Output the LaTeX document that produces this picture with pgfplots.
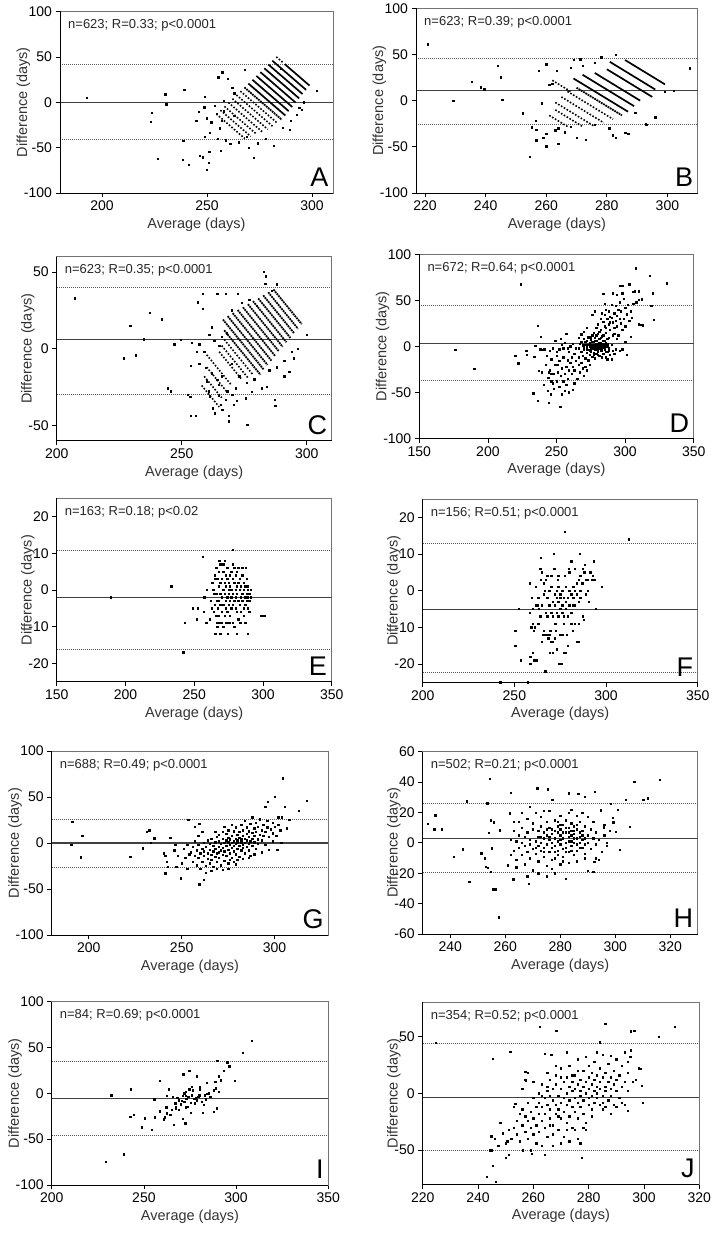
\documentclass[border=0pt]{standalone}
\usepackage{fontspec}
\setmainfont{Liberation Sans}
\usepackage{pgfplots}
\pgfplotsset{compat=1.18}
\newcommand\TLf{\fontsize{14}{15}\selectfont}
\newcommand\LBf{\fontsize{14.5}{15}\selectfont}
\newcommand\ANf{\fontsize{13}{13}\selectfont}
\newcommand\LTf{\fontsize{27}{28}\selectfont}
\pgfplotsset{
  panel/.style={
    scale only axis, anchor=south west,
    axis line style={draw=black!55, line width=0.7pt},
    tick align=outside, tickpos=left, major tick length=4.5pt,
    every tick/.style={black, line width=0.7pt},
    ticklabel style={font=\TLf, text=black},
    /pgf/number format/assume math mode=true,
    label style={font=\LBf, text=black!80},
    xlabel={Average (days)}, ylabel={Difference (days)},
    ylabel shift=-13pt,
    extra description/.code={\draw[black, line width=0.8pt] (0,1)--(0,0)--(1,0);},
  },
  pts/.style={only marks, mark=square*, mark size=0.68pt, black},
  mline/.style={black!75, line width=1.1pt, mark=none},
  lim/.style={black!65, line width=0.8pt, dash pattern=on 0.8pt off 1.2pt, mark=none},
  st/.style={black, line width=1.7pt, mark=none},
  st2/.style={black, line width=1.8pt, mark=none, dash pattern=on 1.8pt off 0.8pt},
  ds/.style={black, line width=1.6pt, mark=none, dash pattern=on 1.6pt off 1.7pt},
}
\newcommand\ann[1]{\node[anchor=north west, font=\ANf, inner sep=0pt, xshift=8pt, yshift=-8pt, text=black!85] at (rel axis cs:0,1) {#1};}
\newcommand\plet[1]{\node[anchor=south east, font=\LTf, inner sep=0pt, xshift=-4.5pt, yshift=6pt] at (rel axis cs:1,0) {#1};}
\begin{document}
\begin{tikzpicture}
\path[use as bounding box] (0pt,0pt) rectangle (712pt,1233pt);
% ---------------- A
\begin{axis}[panel, at={(60pt,1040pt)}, width=273pt, height=181.5pt,
  xmin=180, xmax=310, ymin=-100, ymax=100, xtick={200,250,300}, ytick={-100,-50,0,50,100}]
\addplot[mline] coordinates {(180,0) (310,0)};
\addplot[lim] coordinates {(180,42) (310,42)};
\addplot[lim] coordinates {(180,-41.5) (310,-41.5)};
\addplot[ds] coordinates {(283,50) (286.5,43)};
\addplot[st] coordinates {(287,42) (298.8,18.4)};
\addplot[st] coordinates {(281.1,45.8) (297.2,13.6)};
\addplot[st] coordinates {(279.2,41.6) (295.5,9)};
\addplot[st] coordinates {(277.3,37.4) (293.9,4.2)};
\addplot[st] coordinates {(275.4,33.2) (292.2,-0.4)};
\addplot[st] coordinates {(273.5,29) (290.6,-5.2)};
\addplot[st] coordinates {(271.6,24.8) (288.9,-9.8)};
\addplot[st] coordinates {(269.7,20.6) (287.3,-14.6)};
\addplot[st2] coordinates {(267.8,16.4) (285.6,-19.2)};
\addplot[ds] coordinates {(265.9,12.2) (283.5,-23)};
\addplot[ds] coordinates {(264,8) (281.2,-26.4)};
\addplot[ds] coordinates {(262.1,3.8) (278.9,-29.8)};
\addplot[ds] coordinates {(260.2,-0.4) (276.3,-32.6)};
\addplot[ds] coordinates {(258.3,-4.6) (273.5,-35)};
\addplot[ds] coordinates {(256.4,-8.8) (270.8,-37.6)};
\addplot[ds] coordinates {(254.5,-13) (268,-40)};
\addplot[pts] coordinates {(192.8,5.1) (223.8,-11.4) (223.1,-21.3) (230.1,8.8) (230.6,-2.2) (226.6,-62.5) (239.1,13.6) (238.6,-42.3) (238.3,-63.6) (241.3,-69.1) (246.6,-59.2) (247.8,-60.7) (245.9,-10.3) (244.9,-20.2) (249,6.3) (248.6,-5.5) (248.8,-37.9) (249.8,-17.6) (249.8,-74.6) (250.9,-66.5) (251,-54.4) (251.4,-33.5) (253.7,-4) (254.5,-12.9) (255.3,27.6) (257.3,33.1) (256.1,-28.7) (256.6,-53.3) (272.1,-61.4) (281.7,-48.2) (302.1,12.5) (289.3,-30.5) (292.8,-14) (293.9,-5.9) (260,26) (268,36) (262,16) (263,10) (259,-42) (261,-46) (265,-44) (269,-38) (270,-50) (274,-45) (278,-40) (285,37) (258,2) (255,-40) (252,-22) (257,-20) (263,-15) (258,-10) (286,-28) (290,-20) (295,-8) (296,0)};
\ann{n=623; R=0.33; p<0.0001}
\plet{A}
\end{axis}
% ---------------- B
\begin{axis}[panel, at={(416pt,1040pt)}, width=281.7pt, height=184.7pt,
  xmin=217, xmax=310, ymin=-100, ymax=100, xtick={220,240,260,280,300}, ytick={-100,-50,0,50,100}]
\addplot[mline] coordinates {(217,10.8) (310,10.8)};
\addplot[lim] coordinates {(217,45.9) (310,45.9)};
\addplot[lim] coordinates {(217,-25.2) (310,-25.2)};
\addplot[st] coordinates {(286,44) (299.2,17.6)};
\addplot[st] coordinates {(281,42) (296,12)};
\addplot[st] coordinates {(280,34) (295,4)};
\addplot[st] coordinates {(276,30) (291,0)};
\addplot[st] coordinates {(272,28) (289,-6)};
\addplot[st] coordinates {(269,24) (287,-12)};
\addplot[st2] coordinates {(270,14) (285,-16)};
\addplot[ds] coordinates {(267,10) (282,-20)};
\addplot[ds] coordinates {(265,4) (279,-24)};
\addplot[ds] coordinates {(263,-2) (276,-28)};
\addplot[ds] coordinates {(263,-10) (272,-28)};
\addplot[ds] coordinates {(261,-16) (267,-28)};
\addplot[ds] coordinates {(262,22) (268,10)};
\addplot[pts] coordinates {(220.8,61) (229.3,0.2) (235.3,20.7) (238.3,14.6) (239.5,12.4) (243.9,37.7) (245,25.4) (245.4,0.9) (252.3,-13.5) (254.5,-60.4) (255.1,-28.6) (256.5,-21.4) (256.7,-31.5) (257.6,32.6) (256.7,-43) (258.6,-2.7) (260,39.5) (260,-49.5) (263.5,32.6) (263.9,-46.7) (271.2,44.9) (275.9,41.3) (278.1,47) (280.8,-29.7) (281.9,-37.6) (286.1,-34.4) (289.4,-12.8) (292.9,-25) (307.3,35.1) (269,44) (272,38) (268,36) (262,18) (261,17) (264,-30) (266,-34) (268,-28) (270,-40) (273,-42) (276,-26) (260,-36) (259,-40) (263,-32) (283,-40) (287,-36) (293,-26) (296,-18) (283,50) (299,10) (302,11)};
\ann{n=623; R=0.39; p<0.0001}
\plet{B}
\end{axis}
% ---------------- C
\begin{axis}[panel, at={(56.7pt,792.3pt)}, width=275pt, height=184pt,
  xmin=200, xmax=310, ymin=-60, ymax=60, xtick={200,250,300}, ytick={-50,0,50}]
\addplot[mline] coordinates {(200,5.9) (310,5.9)};
\addplot[lim] coordinates {(200,39.7) (310,39.7)};
\addplot[lim] coordinates {(200,-29.7) (310,-29.7)};
\addplot[st2] coordinates {(286.7,38.6) (298,16)};
\addplot[st2] coordinates {(284.6,36.8) (296.5,13)};
\addplot[st2] coordinates {(282.6,34.8) (295,10)};
\addplot[st2] coordinates {(280.6,32.8) (293.5,7)};
\addplot[st2] coordinates {(278.5,31) (291.9,4.2)};
\addplot[st2] coordinates {(276.5,29) (290.4,1.2)};
\addplot[st2] coordinates {(274.5,27) (288.9,-1.8)};
\addplot[st2] coordinates {(272.4,25.2) (287.4,-4.8)};
\addplot[st2] coordinates {(270.4,23.2) (285.9,-7.8)};
\addplot[st2] coordinates {(268.4,21.2) (284.3,-10.6)};
\addplot[st2] coordinates {(266.5,19) (282.8,-13.6)};
\addplot[st2] coordinates {(267,12) (281.5,-17)};
\addplot[ds] coordinates {(267,6) (278.5,-17)};
\addplot[ds] coordinates {(266,2) (276.5,-19)};
\addplot[ds] coordinates {(265,-2) (274,-20)};
\addplot[ds] coordinates {(260,-4) (270,-24)};
\addplot[ds] coordinates {(260,-12) (268,-28)};
\addplot[ds] coordinates {(259,-18) (266,-32)};
\addplot[ds] coordinates {(258,-24) (265,-38)};
\addplot[pts] coordinates {(207.3,33) (226.8,-6.1) (231.5,-4.3) (229.4,15) (234.7,6.3) (237.1,23.3) (242,19.3) (247,3) (244.4,-25.7) (245.7,-27.8) (249.7,5.9) (252.3,-30) (253.4,-31.5) (253.6,-11.1) (253.6,-43.7) (255.6,-43.5) (256.4,30.2) (258.5,25.9) (258.3,35.7) (264.2,35.7) (267.5,35.7) (272.5,35.7) (268.9,-47.4) (276.2,-49.6) (275.5,-32.2) (282.8,50) (283.7,47.2) (283.4,42.2) (282.1,-25.7) (284.1,-24.6) (287.2,-33.3) (287.4,-37) (300,9.1) (296.3,0) (294.7,-6.1) (259.6,-12.6) (259.9,-21.3) (260.7,-27.8) (261.2,-31.1) (264.2,-20.2) (264.9,-23.5) (264.9,-30.7) (265.6,-36.5) (266.2,-39.8) (267.5,-33.3) (268.2,-27.8) (262.3,-38.7) (263.3,-42) (268.9,-43.7) (270.2,-30) (271.5,-25.7) (270.9,-36.5) (257,3) (259,-2) (261,9) (263,5) (265,2) (266,8) (268,10) (270,-10) (273,-18) (276,-22) (279,-20) (286,38) (288,42) (280,28) (277,32) (262,-16) (266,-18) (272,-34) (278,-28) (291,-18) (293,-15) (256,-2) (254,4) (285,-14) (288,-12) (291,-8) (294,-2) (270,25) (274,30) (262,14) (257,-10)};
\ann{n=623; R=0.35; p<0.0001}
\plet{C}
\end{axis}
% ---------------- D
\begin{axis}[panel, at={(419.3pt,794.7pt)}, width=274.4pt, height=184pt,
  xmin=150, xmax=350, ymin=-100, ymax=100, xtick={150,200,250,300,350}, ytick={-100,-50,0,50,100}]
\addplot[mline] coordinates {(150,2.9) (350,2.9)};
\addplot[lim] coordinates {(150,44) (350,44)};
\addplot[lim] coordinates {(150,-36.7) (350,-36.7)};
\addplot[pts] coordinates {(266,-2) (267,3) (268,-6) (268,5) (269,-10) (269,1) (270,-4) (270,8) (271,-13) (271,2) (272,-7) (272,6) (272,-1) (273,-4) (273,10) (273,-15) (274,0) (274,4) (274,-9) (275,-3) (275,7) (275,-6) (276,1) (276,-11) (276,12) (277,-2) (277,5) (277,-7) (278,2) (278,-4) (278,9) (278,-13) (279,0) (279,-8) (279,6) (280,-3) (280,3) (280,14) (280,-6) (281,1) (281,-10) (281,8) (282,-2) (282,4) (282,18) (283,-5) (283,0) (283,11) (284,-8) (284,3) (284,-1) (285,6) (285,-4) (285,22) (286,0) (286,-12) (286,15) (287,3) (287,-6) (288,9) (288,-2) (289,-9) (289,26) (290,2) (290,-14) (291,12) (291,-5) (292,20) (293,-3) (294,8)
(280,24) (282,30) (283,36) (284,27) (285,34) (286,20) (286,40) (287,30) (288,24) (288,38) (289,18) (290,31) (290,45) (291,26) (292,36) (292,14) (293,28) (293,44) (294,22) (294,33) (295,40) (295,12) (296,30) (296,48) (297,25) (297,38) (298,18) (298,66) (299,30) (299,52) (300,42) (300,22) (301,35) (301,-9) (302,45) (303,28) (304,38) (305,31) (306,46) (307,60) (308,48) (310,60) (312,51) (313,23) (310,24) (296,66) (294,56) (281,16) (279,20) (277,15) (283,-12) (287,-14) (292,-8) (296,-5) (298,-3) (300,5) (278,38) (276,34) (285,46) (289,32) (272,20) (270,16) (268,13) (266,9)
(264,-16) (263,-8) (262,-22) (261,-12) (261,-30) (260,-18) (259,-26) (259,-6) (258,-35) (258,-15) (257,-22) (257,-42) (256,-30) (256,-48) (255,-12) (255,-38) (254,-24) (254,-52) (253,-32) (252,-16) (252,-44) (251,-28) (250,-38) (250,-6) (249,-20) (248,-30) (248,-46) (247,-40) (246,-14) (245,-26) (244,-34) (243,-10) (242,-20) (240,-4) (239,-28) (266,-20) (267,-28) (268,-18) (269,-24) (270,-32) (271,-22) (272,-26) (274,-20) (263,-40) (262,-47) (259,-50) (265,-35) (266,-12) (264,-2) (262,3) (260,0) (258,-2) (256,4) (254,2) (252,-3) (250,-10) (247,-2) (245,-5) (249,6) (253,8) (257,14) (263,-26) (246,-30) (251,-20) (255,-2)
(176.2,-3.6) (190.1,-24.6) (224.1,67.4) (220,-10.5) (222.2,-18.5) (227.8,-4.7) (228.5,-9.4) (236.3,22.1) (238.7,10.5) (233.8,-11.2) (234.5,0.5) (237,-26.8) (233.1,-51.1) (236.3,-59) (244.3,-61.2) (240.6,-41.7) (243.5,-48.2) (245.9,-52.2) (252.8,-65.6) (307.5,84.8) (317.7,76.4) (330.3,68.5) (320.3,57.6) (309.9,50.4) (318.9,44.2) (320.8,28.6) (304.3,10.5) (311.6,23.2) (305.5,59.4) (303,67.4) (297.8,57.6) (291,57.6) (284.1,56.9) (244.5,-28) (241,-3) (246,-38) (238,-3)
(270,-1) (271,5) (272,-3) (273,2) (274,-5) (275,1) (276,-2) (276,5) (277,-9) (277,2) (278,-1) (278,6) (279,3) (279,-3) (280,0) (280,-9) (281,-2) (281,4) (282,1) (282,-5) (283,3) (283,-2) (284,0) (284,6) (285,-1) (285,1) (286,-6) (286,4) (287,0) (288,-5) (275,10) (279,12) (282,9) (284,12) (287,8)};
\ann{n=672; R=0.64; p<0.0001}
\plet{D}
\end{axis}
% ---------------- E
\begin{axis}[panel, at={(56.7pt,551.3pt)}, width=275pt, height=183.4pt,
  xmin=150, xmax=350, ymin=-25, ymax=25, xtick={150,200,250,300,350}, ytick={-20,-10,0,10,20}]
\addplot[mline] coordinates {(150,-2.1) (350,-2.1)};
\addplot[lim] coordinates {(150,10.9) (350,10.9)};
\addplot[lim] coordinates {(150,-16.1) (350,-16.1)};
\addplot[pts] coordinates {(189.5,-2) (233.2,1) (256.2,9) (243.3,-9) (242.1,-17) (248.9,-5) (252.5,-5) (251.8,-8) (256.7,-6) (257.2,-2) (259.1,0) (258.6,-9) (261.5,-8) (262.7,-5) (263.9,0) (265.2,3) (266.4,-3) (267.6,1) (265.2,-12) (266.4,-9) (266.8,-10) (268.3,-9) (268.1,8) (277.8,11) (298.6,-7) (300.8,-7) (288.9,-12) (274.4,-12) (280.9,-12) (283.5,-9) (286,-7) (287.5,6)
(262,-3) (263,2) (264,-1) (264,-6) (265,4) (265,-4) (266,6) (266,-1) (266,-7) (267,3) (267,-5) (267,-10) (268,1) (268,5) (268,-3) (268,-7) (269,7) (269,-1) (269,-4) (269,2) (270,-2) (270,3) (270,-6) (270,-9) (271,0) (271,5) (271,-4) (272,-1) (272,2) (272,-7) (272,8) (273,-3) (273,1) (273,-5) (273,4) (274,-2) (274,3) (274,-6) (274,-9) (274,6) (275,0) (275,-4) (275,2) (275,-1) (276,-3) (276,4) (276,-7) (276,1) (277,-2) (277,5) (277,-5) (277,0) (278,-1) (278,3) (278,-9) (278,-4) (279,2) (279,-3) (279,6) (280,0) (280,-5) (280,4) (280,-2) (281,-1) (281,1) (281,-6) (281,5) (282,-3) (282,2) (282,-8) (283,0) (283,-4) (283,3) (284,-2) (284,1) (284,-6) (285,-1) (285,4) (285,-3) (286,0) (286,-5) (286,2) (287,-2) (287,1) (287,-4) (288,-1) (288,3) (288,-3) (289,0) (289,-2) (289,1) (290,-1) (290,-3) (291,-2) (291,0) (289,-5) (290,-6) (284,-9) (279,-10) (276,-9) (271,-10) (269,-12) (273,-9) (287,-9) (285,6) (282,6) (278,7) (271,7)};
\ann{n=163; R=0.18; p<0.02}
\plet{E}
\end{axis}
% ---------------- F
\begin{axis}[panel, at={(422.7pt,550.7pt)}, width=275pt, height=183.3pt,
  xmin=200, xmax=350, ymin=-25, ymax=25, xtick={200,250,300,350}, ytick={-20,-10,0,10,20}]
\addplot[mline] coordinates {(200,-5.1) (350,-5.1)};
\addplot[lim] coordinates {(200,12.9) (350,12.9)};
\addplot[lim] coordinates {(200,-22.3) (350,-22.3)};
\addplot[pts] coordinates {(242.2,-25) (257.3,-25) (250.4,-11) (250.4,-15) (252.4,-5) (253.3,-19) (258.7,-18) (258.7,-20) (260,-17) (260.9,-19) (260.4,-11) (259.1,-10) (260,-9) (258.5,2) (259.6,-2) (258.2,-6) (261.5,1) (262.7,-4) (263.3,-5) (264.2,3) (264.5,9) (264,6) (264.9,-14) (265.8,-12) (266.9,-22) (267.3,-12) (268.5,-13) (269.1,-17) (269.6,-11) (270,-14) (271.3,10) (271.8,6) (270.9,-14) (272.2,-9) (272.7,-11) (273.1,-16) (274.5,-20) (275.5,-20) (274.9,-12) (273.6,3) (266.4,0) (277.3,4) (279.6,6) (280,5) (280.9,8) (276.9,-17) (277.8,-17) (279.1,-15) (278.7,-12) (281.8,-11) (285.1,-9) (285.1,-14) (285.8,10) (287.3,-7) (287.8,-8) (287.3,6) (288.5,7) (289.1,3) (290,0) (290.4,-3) (291.8,5) (292.4,3) (293.1,8) (293.5,3) (292.7,4) (294.5,-5) (297.6,1) (312.4,14) (277.3,16)
(263,-2) (264,-7) (265,-4) (266,-1) (266,2) (267,-6) (267,3) (268,-2) (268,-7) (269,0) (269,-4) (270,-6) (270,1) (271,-3) (271,-7) (272,-1) (272,-4) (273,-6) (273,0) (273,-2) (274,-3) (274,-7) (274,1) (275,-1) (275,-5) (275,-2) (276,-6) (276,0) (276,-4) (277,-2) (277,-7) (278,1) (278,-3) (278,-5) (279,-2) (279,-7) (280,0) (280,-4) (281,-1) (281,-6) (282,1) (282,-2) (283,-4) (283,-9) (283,0) (284,2) (284,-1) (285,3) (285,-3) (286,0) (286,4) (287,2) (288,5) (289,-1) (290,3) (291,5) (284,-14) (281,-9) (277,-9) (272,-13) (269,-12) (266,-11) (263,-9) (262,-4) (260,-5) (261,-10) (262,-19) (276,-12) (271,-17) (265,5) (268,4) (270,4) (274,4) (282,-4) (283,6) (286,-2)};
\ann{n=156; R=0.51; p<0.0001}
\plet{F}
\end{axis}
% ---------------- G
\begin{axis}[panel, at={(51.7pt,298pt)}, width=276.6pt, height=184pt,
  xmin=180, xmax=329, ymin=-100, ymax=100, xtick={200,250,300}, ytick={-100,-50,0,50,100}]
\addplot[mline] coordinates {(180,0) (329,0)};
\addplot[lim] coordinates {(180,25.4) (329,25.4)};
\addplot[lim] coordinates {(180,-26) (329,-26)};
\addplot[pts] coordinates {(255,-10) (256,-20) (256,-4) (257,-14) (258,-8) (258,-24) (259,-2) (259,-16) (260,-11) (260,-28) (261,-6) (261,-20) (262,0) (262,-14) (262,-9) (263,-25) (263,-4) (264,-17) (264,-11) (264,3) (265,-7) (265,-22) (265,-1) (266,-13) (266,5) (266,-18) (267,-9) (267,-3) (267,-26) (268,-15) (268,1) (268,-6) (269,-11) (269,-20) (269,7) (270,-4) (270,-16) (270,2) (271,-8) (271,-24) (271,-1) (272,-13) (272,5) (272,-5) (273,-19) (273,0) (273,-9) (274,3) (274,-14) (274,-3) (274,10) (275,-7) (275,1) (275,-22) (275,6) (276,-11) (276,-2) (276,4) (277,-16) (277,0) (277,8) (277,-5) (278,-9) (278,2) (278,13) (278,-3) (279,-1) (279,5) (279,-12) (279,17) (280,3) (280,-6) (280,9) (280,0) (281,-3) (281,6) (281,-15) (281,12) (282,1) (282,-8) (282,4) (282,20) (283,-2) (283,8) (283,-5) (283,14) (284,0) (284,5) (284,-11) (284,24) (285,3) (285,-4) (285,10) (285,17) (286,-1) (286,7) (286,13) (286,-8) (287,2) (287,21) (287,-14) (288,5) (288,11) (288,-3) (288,28) (289,1) (289,16) (289,8) (290,-6) (290,12) (290,22) (291,4) (291,-1) (291,18) (292,9) (292,26) (293,14) (293,-10) (293,3) (294,20) (294,8) (295,12) (295,-2) (296,17) (296,24) (297,7) (297,-7) (298,15) (299,22) (299,2) (300,18) (301,8) (302,28) (303,14) (251,-6) (252,-16) (253,-28) (254,-12) (253,-2) (250,-22) (248,-14) (247,-26) (246,-8) (257,2) (259,8) (261,12) (263,-32) (266,-30) (269,-28) (272,-29) (275,-28) (278,-20) (280,-18) (283,-17) (286,-16) (289,-12) (270,-10) (276,-18) (279,-23) (277,20) (275,14) (272,12) (270,9) (268,12) (273,18)
(191.1,23.2) (190.5,-2.2) (196.4,7.6) (195.5,-15.6) (222.3,-14.9) (228.9,-5.8) (231.3,12.3) (232.5,14.1) (233.4,0.4) (235.2,5.1) (243.8,5.8) (240.5,-11.2) (241.1,-14.1) (241.9,-20.3) (241.1,-33) (242.5,-25.7) (249.6,-38.4) (259.5,-44.6) (253.6,25) (304.5,70.3) (300,50.4) (296.4,44.9) (295,39.5) (305.4,39.5) (317.3,45.7) (312.9,35.1) (306.6,15.9) (308,25) (301.4,-7.6) (303.6,0.4) (299.1,10.5) (304,28) (302,20) (246.6,-2) (262,-40) (257,18) (259.4,20.7)};
\ann{n=688; R=0.49; p<0.0001}
\plet{G}
\end{axis}
% ---------------- H
\begin{axis}[panel, at={(422.7pt,299pt)}, width=275pt, height=182.3pt,
  xmin=230, xmax=330, ymin=-60, ymax=60, xtick={240,260,280,300,320}, ytick={-60,-40,-20,0,20,40,60}]
\addplot[mline] coordinates {(230,3) (330,3)};
\addplot[lim] coordinates {(230,26) (330,26)};
\addplot[lim] coordinates {(230,-19.7) (330,-19.7)};
\addplot[pts] coordinates {(262,2) (263,-5) (263,8) (264,1) (264,-11) (265,5) (265,-3) (265,14) (266,-8) (266,0) (266,10) (267,-14) (267,4) (267,-2) (268,7) (268,-6) (268,16) (269,-1) (269,2) (269,-10) (270,9) (270,-4) (270,13) (271,1) (271,-7) (271,20) (272,4) (272,-2) (272,-12) (273,11) (273,0) (273,-5) (273,17) (274,3) (274,-3) (274,7) (274,-9) (275,-1) (275,5) (275,14) (275,-15) (276,2) (276,-6) (276,10) (276,21) (277,-3) (277,6) (277,0) (277,-11) (278,8) (278,-2) (278,15) (278,3) (279,-8) (279,1) (279,11) (279,-5) (280,5) (280,-1) (280,18) (280,9) (281,-4) (281,3) (281,12) (281,-9) (282,7) (282,0) (282,15) (282,-3) (283,10) (283,4) (283,-6) (283,20) (284,1) (284,8) (284,-2) (284,13) (285,6) (285,-8) (285,11) (285,3) (286,-1) (286,9) (286,-5) (287,4) (287,14) (287,0) (288,-3) (288,8) (288,2) (289,11) (289,-7) (290,5) (290,0) (291,9) (291,-4) (292,3) (292,14) (293,-1) (293,7) (294,2) (295,-6) (296,5) (296,12) (297,-2) (298,8) (290,17) (288,20) (286,18) (284,22) (270,-18) (268,-22) (272,-20) (277,-17) (280,-14) (283,-13) (286,-12) (289,-10) (293,-10) (264,-16) (262,-8) (263,14) (266,20) (269,24) (274,21) (278,-20) (275,-22)
(231.9,12.8) (234.5,18.3) (234.2,8.9) (237,8.9) (241.2,-9.1) (244.5,-4.3) (246.1,27.5) (246.9,-25.6) (251.3,-6.9) (252.5,-10.2) (253,-15.7) (253.7,-16.3) (253.4,26) (254.8,15) (254,6.7) (255,-3.6) (254.8,-19) (255.4,-30.6) (256.4,-30.6) (257.6,-49) (254.3,42.4) (258,8.4) (255.8,13.5) (261,-14.6) (262.1,33) (261.6,19.4) (262.9,-24) (268.6,-27.1) (271.6,35.9) (275.5,35.2) (277.1,28.6) (283.2,32.6) (286.6,32.2) (289,30.4) (292.6,33.7) (294.7,21.6) (298.4,25.6) (299,16.6) (299.3,13.5) (300.2,7.3) (295.9,10.2) (296.8,0.3) (300.8,22) (303.8,28.2) (306.9,40.3) (305.3,10.6) (301.6,-4.7) (294.1,-11.3) (292.3,-12.4) (290.1,-18.5) (292,-19) (282,-23.4) (311.7,29.3) (310.2,28.6) (316.2,41.4)
(276,4) (277,9) (278,-6) (279,7) (280,2) (280,12) (281,7) (282,10) (282,-6) (283,1) (283,7) (284,5) (284,-5) (285,8) (285,0) (286,12) (286,3) (287,7) (287,-3) (288,5) (289,3) (289,-1) (274,-6) (273,4) (272,8) (271,-3) (275,9) (279,14) (281,-12) (278,-10)};
\ann{n=502; R=0.21; p<0.0001}
\plet{H}
\end{axis}
% ---------------- I
\begin{axis}[panel, at={(51.7pt,48pt)}, width=276.6pt, height=183.3pt,
  xmin=200, xmax=350, ymin=-100, ymax=100, xtick={200,250,300,350}, ytick={-100,-50,0,50,100}]
\addplot[mline] coordinates {(200,-5.5) (350,-5.5)};
\addplot[lim] coordinates {(200,35.2) (350,35.2)};
\addplot[lim] coordinates {(200,-46.3) (350,-46.3)};
\addplot[pts] coordinates {(229.3,-74.5) (239.2,-66.2) (232.2,-2.2) (243,4.4) (242.5,-25.5) (244.6,-23.3) (248.8,-37.1) (250.6,-27.3) (254.2,-40) (255.5,-6.5) (256,-26.2) (258.4,13.8) (258.7,-19.3) (260.9,-28.4) (261.3,-26.2) (262.4,-21.8) (262.4,-2.9) (263.6,4.7) (264.2,-23.6) (265.1,-17.5) (265.6,-3.6) (266,-34.5) (266.9,-10.9) (267.2,-16.4) (267.4,-14.5) (268.7,-7.3) (270.5,-8) (271,-2.9) (271,-28) (271.4,20.7) (271.8,0) (271.9,-9.1) (272.3,-32.7) (272.5,-2.9) (272.7,1.8) (272.8,-15.3) (273.7,-14.5) (274.1,-3.6) (274.5,24.7) (274.6,4.4) (275.4,-21.1) (275.5,-10.2) (275.9,7.3) (276.3,3.6) (277.2,-5.8) (277.7,-10.9) (278.6,18.9) (278.6,-7.3) (279.5,-3.6) (280.1,4.4) (280.4,7.3) (281.3,-9.1) (281.9,-21.1) (282.6,-12.7) (283.5,-6.5) (284,11.6) (284.4,-0.7) (285.3,0) (287.7,-20) (288,3.6) (288.6,12.7) (288.9,5.5) (289.5,-16.4) (289.8,35.3) (290.4,18.9) (290.7,1.8) (291.6,14.5) (293.4,24.7) (295.2,33.8) (296.2,29.8) (299.4,13.8) (303.6,44.7) (308.4,57.1) (262,-15) (268,-5) (276,-2) (278,-5) (280,-2) (283,-2) (270,-12) (273,-6) (269,-18) (286,-4)};
\ann{n=84; R=0.69; p<0.0001}
\plet{I}
\end{axis}
% ---------------- J
\begin{axis}[panel, at={(422.7pt,48.7pt)}, width=276.6pt, height=182pt,
  xmin=220, xmax=320, ymin=-80, ymax=80, xtick={220,240,260,280,300,320}, ytick={-50,0,50}]
\addplot[mline] coordinates {(220,-3.5) (320,-3.5)};
\addplot[lim] coordinates {(220,44) (320,44)};
\addplot[lim] coordinates {(220,-50.3) (320,-50.3)};
\addplot[pts] coordinates {(245,-50) (246,-40) (247,-46) (248,-26) (249,-35) (250,-44) (251,-32) (251,-54) (252,-40) (253,-30) (253,-12) (254,-36) (254,-24) (255,-18) (255,-42) (256,-28) (256,-14) (257,-34) (257,-20) (258,-24) (258,-40) (258,-8) (259,-30) (259,-16) (260,-36) (260,-22) (260,-4) (261,-12) (261,-44) (261,-28) (262,-18) (262,0) (262,-34) (262,-8)
(263,-24) (263,-12) (263,8) (264,-30) (264,-4) (264,-18) (265,2) (265,-38) (265,-10) (265,6) (266,-22) (266,-14) (266,12) (266,-2) (267,-28) (267,-6) (267,4) (267,-46) (268,-18) (268,8) (268,-10) (268,16) (269,-2) (269,-32) (269,-14) (270,4) (270,-22) (270,-8) (270,22) (271,-4) (271,10) (271,-16) (271,-38) (272,0) (272,-26) (272,14) (272,-10) (273,-6) (273,6) (273,-20) (273,24) (274,2) (274,-12) (274,10) (274,-30) (275,-4) (275,16) (275,-16) (275,4) (276,-8) (276,8) (276,-22) (276,30) (277,-2) (277,12) (277,-12) (277,2) (278,6) (278,-6) (278,20) (278,-18) (279,0) (279,10) (279,-26) (279,32) (280,-4) (280,14) (280,4) (280,-10) (280,24)
(281,8) (281,-2) (281,18) (281,-14) (282,2) (282,12) (282,-8) (282,28) (283,6) (283,-4) (283,16) (283,0) (284,10) (284,-10) (284,22) (284,4) (285,-2) (285,14) (285,-8) (285,34) (286,6) (286,-12) (286,18) (286,2) (287,10) (287,-6) (287,26) (288,4) (288,14) (288,-2) (289,8) (289,20) (289,-10) (290,2) (290,12) (290,30) (291,16) (291,-4) (292,6) (292,24) (293,36) (293,10) (293,-10) (294,18) (294,28) (294,2) (295,32) (296,10) (298,22) (297,12) (283,36) (281,-20) (278,-30) (276,-40) (275,-32) (273,-42) (270,-44) (269,-20) (267,-36) (263,-46) (259,-50) (264,-54) (285,-14) (290,-12) (288,-18) (272,36) (274,16) (276,20) (270,14) (268,24) (265,18) (263,-2) (260,10) (258,18) (257,12) (256,4) (272,-32) (277,-44) (279,-32) (266,-28)
(224.8,44.2) (245.3,30.5) (251.6,36.3) (262.2,58.7) (268.2,55.2) (286,61) (295.3,54.7) (296.5,55.2) (305.3,50) (311,58.7) (295.3,37.8) (298.9,21.8) (299.2,6.7) (299.5,-8.1) (294.1,-15.1) (243.1,-73.3) (246.3,-77.6) (244.7,-37.8) (245.3,-63.4) (244.3,-50) (247.5,-45.9) (250.1,-56.7) (250.5,-42.2) (256.1,-50) (259.4,-52.9) (277.5,-56.7) (257,18.9) (257.3,11) (253.5,-9.3) (264,35) (266.5,34) (284,45) (288,33) (292,-8)};
\ann{n=354; R=0.52; p<0.0001}
\plet{J}
\end{axis}
\end{tikzpicture}
\end{document}
